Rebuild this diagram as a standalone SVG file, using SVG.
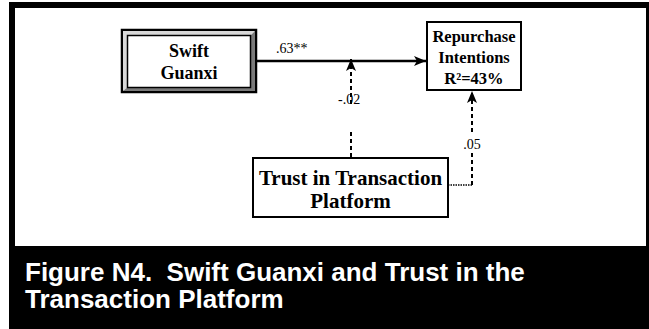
<svg xmlns="http://www.w3.org/2000/svg" width="649" height="329" viewBox="0 0 649 329">
<defs>
<style>
.box{fill:#fff;stroke:#000;stroke-width:2}
.t{font-family:"Liberation Serif","Times New Roman",serif;font-weight:bold;fill:#000;text-anchor:middle}
.lbl{font-family:"Liberation Serif","Times New Roman",serif;font-size:14px;fill:#000}
.dash{fill:none;stroke:#000;stroke-width:2;stroke-dasharray:4 3}
.dot{fill:none;stroke:#000;stroke-width:1.6;stroke-dasharray:1.5 1}
.cap{font-family:"Liberation Sans",Arial,sans-serif;font-weight:bold;font-size:26px;fill:#fff;white-space:pre}
</style>
<marker id="ah" viewBox="0 0 12 10" refX="12" refY="5" markerWidth="12" markerHeight="10" markerUnits="userSpaceOnUse" orient="auto">
<path d="M0,0 L12,5 L0,10 L3,5 Z" fill="#000"/>
</marker>
</defs>
<rect width="649" height="329" fill="#fff"/>
<rect x="9" y="2" width="640" height="327" fill="#000"/>
<rect x="15" y="8" width="631" height="238" fill="#fff"/>

<g id="swift-guanxi">
<rect x="122" y="30" width="134" height="62" fill="#fff" stroke="#000" stroke-width="2.5"/>
<path d="M123,31 L255,31 L250,36 L128,36 L128,87 L123,91 Z" fill="#d8d8d8"/>
<path d="M255,31 L255,91 L123,91 L128,87 L250,87 L250,36 Z" fill="#7a7a7a"/>
<rect x="127.5" y="35.5" width="123" height="52" fill="#fff" stroke="#000" stroke-width="1.5"/>
<text class="t" x="189" y="57" font-size="18">Swift</text>
<text class="t" x="189" y="78.5" font-size="18">Guanxi</text>
</g>

<g id="repurchase-intentions">
<rect class="box" x="427" y="22" width="94" height="68"/>
<text class="t" x="474" y="41.7" font-size="16.5">Repurchase</text>
<text class="t" x="474" y="63" font-size="16.5">Intentions</text>
<text class="t" x="474" y="83.5" font-size="16.5">R²=43%</text>
</g>

<g id="trust-platform">
<rect class="box" x="253" y="158" width="195" height="59"/>
<text class="t" x="350.5" y="185" font-size="21">Trust in Transaction</text>
<text class="t" x="350.5" y="208" font-size="21">Platform</text>
</g>

<g id="connectors">
<line x1="257" y1="61" x2="426" y2="61" stroke="#000" stroke-width="2.5" marker-end="url(#ah)"/>
<text class="lbl" x="276" y="53">.63**</text>
<line class="dash" x1="351" y1="104" x2="351" y2="59" marker-end="url(#ah)"/>
<line class="dash" x1="351" y1="157" x2="351" y2="131"/>
<text class="lbl" x="338" y="104">-.02</text>
<polyline class="dot" points="448,185 472,185"/>
<line class="dash" x1="472" y1="185" x2="472" y2="153"/>
<line class="dash" x1="472" y1="132" x2="472" y2="91" marker-end="url(#ah)"/>
<text class="lbl" x="472" y="148.5" text-anchor="middle">.05</text>
</g>

<g id="caption">
<text class="cap" x="25" y="281">Figure N4.  Swift Guanxi and Trust in the</text>
<text class="cap" x="25" y="308">Transaction Platform</text>
</g>
</svg>
